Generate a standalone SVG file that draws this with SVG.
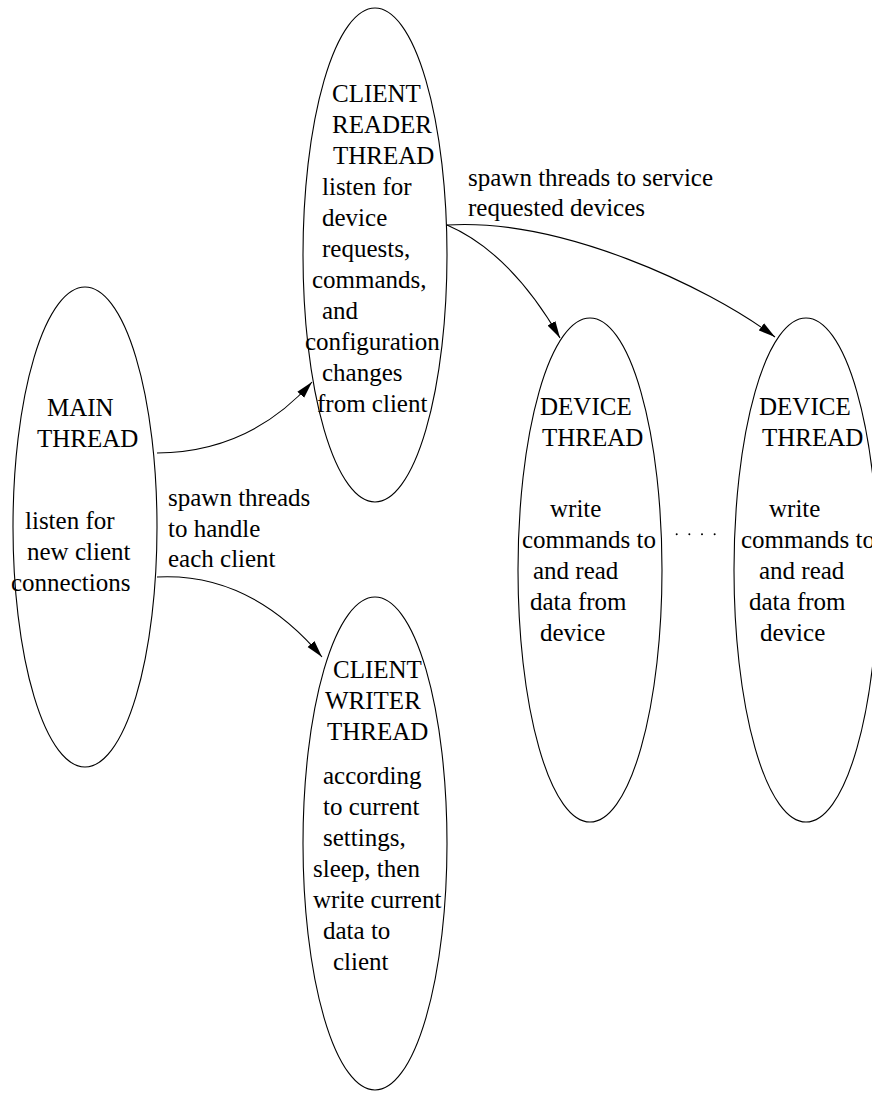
<svg xmlns="http://www.w3.org/2000/svg" width="872" height="1093" viewBox="0 0 872 1093">
<style>
.n{fill:none;stroke:#000;stroke-width:1.1}
text{font-family:'Liberation Serif','DejaVu Serif','Times New Roman',Times,serif;font-size:25px;fill:#000}
.c{fill:none;stroke:#000;stroke-width:1.1}
</style>
<defs>
<marker id="ah" markerUnits="userSpaceOnUse" markerWidth="18" markerHeight="10" refX="17" refY="5" orient="auto">
<path d="M0,0.5 L17,5 L0,9.5 z" fill="#000"/>
</marker>
</defs>
<rect width="872" height="1093" fill="#fff"/>
<g id="connectors">
<path class="c" d="M157,453 Q250,452 312,382" marker-end="url(#ah)"/>
<path class="c" d="M157,577 Q250,572 322,657" marker-end="url(#ah)"/>
<path class="c" d="M447,225 Q510,252 560,338" marker-end="url(#ah)"/>
<path class="c" d="M447,225 C560,218 705,285 775,337" marker-end="url(#ah)"/>
<line x1="676.7" y1="534.3" x2="727.3" y2="534.3" stroke="#000" stroke-width="2" stroke-linecap="round" stroke-dasharray="0 12.65"/>
</g>
<g id="label-spawn-clients" font-family="Liberation Serif, serif">
<text x="168" y="506">spawn threads</text>
<text x="168" y="537">to handle</text>
<text x="168" y="567">each client</text>
</g>
<g id="label-spawn-devices" font-family="Liberation Serif, serif">
<text x="468" y="186">spawn threads to service</text>
<text x="468" y="216">requested devices</text>
</g>
<g id="main-thread" font-family="Liberation Serif, serif">
<ellipse class="n" cx="85" cy="527" rx="72" ry="240"/>
<text x="47" y="416">MAIN</text>
<text x="37" y="447">THREAD</text>
<text x="25" y="529">listen for</text>
<text x="27" y="560">new client</text>
<text x="11" y="591">connections</text>
</g>
<g id="client-reader-thread" font-family="Liberation Serif, serif">
<ellipse class="n" cx="375" cy="255" rx="72" ry="247"/>
<text x="332" y="102">CLIENT</text>
<text x="332" y="133">READER</text>
<text x="333" y="164">THREAD</text>
<text x="322" y="195">listen for</text>
<text x="322" y="226">device</text>
<text x="322" y="257">requests,</text>
<text x="312" y="288">commands,</text>
<text x="322" y="319">and</text>
<text x="305" y="350">configuration</text>
<text x="322" y="381">changes</text>
<text x="317" y="412">from client</text>
</g>
<g id="client-writer-thread" font-family="Liberation Serif, serif">
<ellipse class="n" cx="375" cy="843.5" rx="72" ry="246.5"/>
<text x="333" y="678">CLIENT</text>
<text x="325" y="709">WRITER</text>
<text x="327" y="740">THREAD</text>
<text x="323" y="784">according</text>
<text x="323" y="815">to current</text>
<text x="323" y="846">settings,</text>
<text x="313" y="877">sleep, then</text>
<text x="313" y="908">write current</text>
<text x="323" y="939">data to</text>
<text x="333" y="970">client</text>
</g>
<g id="device-thread-1" font-family="Liberation Serif, serif">
<ellipse class="n" cx="590" cy="570" rx="72" ry="252"/>
<text x="540" y="415">DEVICE</text>
<text x="542" y="446">THREAD</text>
<text x="550" y="517">write</text>
<text x="522" y="548">commands to</text>
<text x="533" y="579">and read</text>
<text x="530" y="610">data from</text>
<text x="540" y="641">device</text>
</g>
<g id="device-thread-2" font-family="Liberation Serif, serif">
<ellipse class="n" cx="806" cy="570" rx="72" ry="252"/>
<text x="759" y="415">DEVICE</text>
<text x="762" y="446">THREAD</text>
<text x="769" y="517">write</text>
<text x="741" y="548">commands to</text>
<text x="759" y="579">and read</text>
<text x="749" y="610">data from</text>
<text x="760" y="641">device</text>
</g>
</svg>
